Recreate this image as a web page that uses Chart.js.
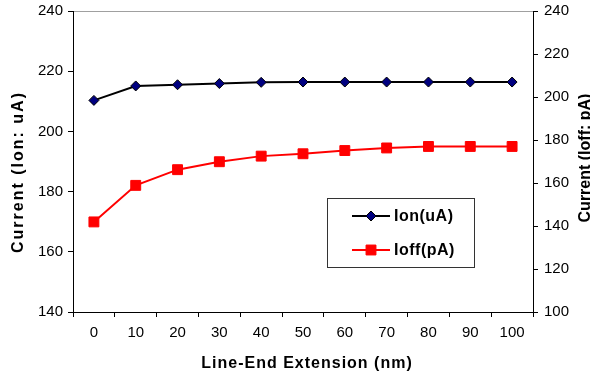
<!DOCTYPE html>
<html>
<head>
<meta charset="utf-8">
<script src="https://cdn.jsdelivr.net/npm/chart.js@4/dist/chart.umd.min.js"></script>
<style>
  body { margin: 0; background: #fff; }
  #wrap { width: 590px; height: 378px; position: relative; }
</style>
</head>
<body>
<div id="wrap"><canvas id="lineChart"></canvas></div>
<script>
// data
const extension = ["0", "10", "20", "30", "40", "50", "60", "70", "80", "90", "100"];
const ionValues = [210.3, 215.1, 215.5, 215.9, 216.3, 216.4, 216.4, 216.4, 216.4, 216.4, 216.4];
const ioffValues = [141.9, 158.9, 166.2, 169.9, 172.5, 173.6, 175.1, 176.3, 177.0, 177.0, 177.0];
const seriesNames = ["Ion(uA)", "Ioff(pA)"];
const axisTitles = ["Line-End Extension (nm)", "Current (Ion: uA)", "Current (Ioff: pA)"];

const FONT = '"Liberation Sans", Arial, sans-serif';
Chart.defaults.font.family = FONT;
Chart.defaults.color = "#000";

// draw a marker like the ones on the lines
function marker(ctx, ds, x, y) {
    ctx.save();
    ctx.fillStyle = ds.pointBackgroundColor;
    ctx.strokeStyle = ds.pointBorderColor;
    ctx.lineWidth = 1;
    ctx.beginPath();
    let r = ds.pointRadius;
    if (ds.pointStyle === "rectRot") {
        ctx.moveTo(x, y - r); ctx.lineTo(x + r, y); ctx.lineTo(x, y + r); ctx.lineTo(x - r, y);
    } else {
        let s = r * Math.SQRT1_2;
        ctx.rect(x - s, y - s, 2 * s, 2 * s);
    }
    ctx.closePath();
    ctx.fill();
    ctx.stroke();
    ctx.restore();
}

// legend box inside the plot + axis titles
const extras = {
    id: "extras",
    afterDraw(chart) {
        const ctx = chart.ctx;
        ctx.save();

        // legend
        ctx.fillStyle = "#fff";
        ctx.fillRect(327.5, 198.5, 147, 69);
        ctx.strokeStyle = "#333";
        ctx.lineWidth = 1;
        ctx.strokeRect(327.5, 198.5, 147, 69);
        chart.data.datasets.forEach((ds, i) => {
            let y = 216 + i * 34;
            ctx.strokeStyle = ds.borderColor;
            ctx.lineWidth = 2;
            ctx.beginPath();
            ctx.moveTo(352, y);
            ctx.lineTo(390, y);
            ctx.stroke();
            marker(ctx, ds, 371, y);
            ctx.fillStyle = "#000";
            ctx.font = "bold 16px " + FONT;
            ctx.letterSpacing = "0.5px";
            ctx.textAlign = "left";
            ctx.textBaseline = "middle";
            ctx.fillText(ds.label, 394, y + 1);
        });

        // titles
        ctx.fillStyle = "#000";
        ctx.textAlign = "center";
        ctx.textBaseline = "middle";
        ctx.font = "bold 16px " + FONT;

        ctx.letterSpacing = "1px";
        ctx.fillText(axisTitles[0], 307, 364);

        ctx.save();
        ctx.translate(19, 172);
        ctx.rotate(-Math.PI / 2);
        ctx.letterSpacing = "2px";
        ctx.fillText(axisTitles[1], 0, 0);
        ctx.restore();

        ctx.save();
        ctx.translate(586, 158);
        ctx.rotate(-Math.PI / 2);
        ctx.letterSpacing = "0px";
        ctx.fillText(axisTitles[2], 0, 0);
        ctx.restore();

        ctx.restore();
    }
};

new Chart(document.getElementById("lineChart"), {
    type: "line",
    data: {
        labels: extension,
        datasets: [{
            label: seriesNames[0],
            data: ionValues,
            yAxisID: "y",
            borderColor: "#000000",
            borderWidth: 2,
            pointStyle: "rectRot",
            pointRadius: 5,
            pointBackgroundColor: "#000080",
            pointBorderColor: "#000000",
            pointBorderWidth: 1,
            tension: 0
        }, {
            label: seriesNames[1],
            data: ioffValues,
            yAxisID: "y1",
            borderColor: "#ff0000",
            borderWidth: 2,
            pointStyle: "rect",
            pointRadius: 7,
            pointBackgroundColor: "#ff0000",
            pointBorderColor: "#ff0000",
            pointBorderWidth: 1,
            tension: 0
        }]
    },
    options: {
        responsive: true,
        maintainAspectRatio: false,
        animation: false,
        layout: { padding: { top: 11, left: 0, right: 0, bottom: 0 } },
        plugins: {
            legend: { display: false },
            tooltip: { enabled: false }
        },
        scales: {
            x: {
                offset: true,
                grid: { offset: true, drawOnChartArea: false, tickLength: 5, color: "#000" },
                border: { color: "#000", width: 1 },
                ticks: { font: { size: 15 }, padding: 7, maxRotation: 0, autoSkip: false },
                afterFit: s => { s.height = 66; }
            },
            y: {
                position: "left",
                min: 140,
                max: 240,
                ticks: { stepSize: 20, font: { size: 15 }, padding: 5 },
                grid: {
                    color: c => (c.tick && c.tick.value === 240) ? "#a0a0a0" : "rgba(0,0,0,0)",
                    tickColor: "#000",
                    tickLength: 5
                },
                border: { color: "#000", width: 1 },
                afterFit: s => { s.width = 73; s.paddingTop = 0; s.paddingBottom = 0; }
            },
            y1: {
                position: "right",
                min: 100,
                max: 240,
                ticks: { stepSize: 20, font: { size: 15 }, padding: 6 },
                grid: { drawOnChartArea: false, tickColor: "#000", tickLength: 5 },
                border: { color: "#000", width: 1 },
                afterFit: s => { s.width = 57; s.paddingTop = 0; s.paddingBottom = 0; }
            }
        }
    },
    plugins: [extras]
});
</script>
</body>
</html>
